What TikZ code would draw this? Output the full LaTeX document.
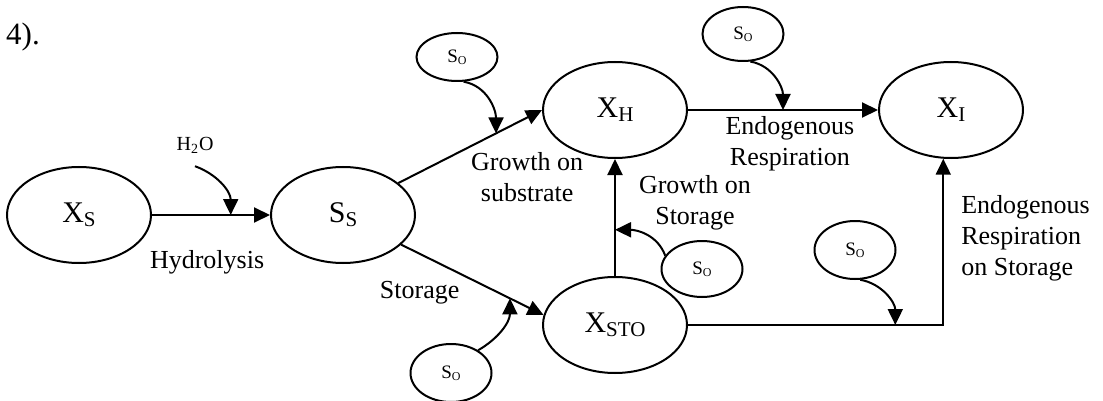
\documentclass[tikz,border=0pt]{standalone}
\usepackage{fontspec}
\setmainfont{Liberation Serif}
\usepackage{tikz}
\usetikzlibrary{positioning,shapes.geometric,arrows.meta}
\tikzset{flow/.style={line width=1pt,-{Triangle[length=8pt,width=7.5pt]}}}
\newcommand{\subbig}[1]{\raisebox{-2pt}{\fontsize{10.5}{12}\selectfont #1}}
\newcommand{\subsmall}[1]{\raisebox{-0.8pt}{\fontsize{6}{7}\selectfont #1}}

\begin{document}
\begin{tikzpicture}[
bignode/.style={ellipse, draw, line width=1pt, minimum width=72pt, minimum height=48pt, inner sep=0pt, font=\fontsize{15}{17}\selectfont},
oxnode/.style={ellipse, draw, line width=1pt, minimum width=40.5pt, minimum height=28pt, inner sep=0pt, font=\fontsize{9.5}{10}\selectfont},
lbl/.style={inner sep=0pt, align=center, font=\fontsize{13}{15.5}\selectfont},
on grid
]
\useasboundingbox (0,0) rectangle (551.5pt,-200.5pt);
%Nodes
\node[bignode]      (xs)   at (39.5pt,-107.5pt)                   {X\subbig{S}};
\node[bignode]      (ss)   [right=132pt of xs]                    {S\subbig{S}};
\node[bignode]      (xh)   [above right=52.5pt and 136pt of ss]   {X\subbig{H}};
\node[bignode]      (xi)   [right=168pt of xh]                    {X\subbig{I}};
\node[bignode]      (xsto) [below=107.5pt of xh]                  {X\subbig{STO}};
\node[oxnode, minimum height=24pt] (so1) [above left=26.5pt and 79pt of xh] {S\subsmall{O}};
\node[oxnode, minimum height=27pt] (so2) [above right=38pt and 64pt of xh]  {S\subsmall{O}};
\node[oxnode]       (so3)  [above right=28pt and 43.5pt of xsto]  {S\subsmall{O}};
\node[oxnode, minimum height=29pt] (so4) [below left=24pt and 82pt of xsto] {S\subsmall{O}};
\node[oxnode, minimum height=29pt] (so5) [above right=37.5pt and 120pt of xsto] {S\subsmall{O}};
\node[font=\fontsize{10}{12}\selectfont] (h2o) [above right=35pt and 58pt of xs] {H\textsubscript{2}O};
\node[font=\fontsize{15.5}{18}\selectfont, inner sep=0pt] (num) at (11.5pt,-18.5pt) {4).};

%Lines
\draw[flow] (xs) -- (ss) node[lbl, pos=0.467, yshift=-23.5pt] (hydro) {Hydrolysis} coordinate[pos=0.667] (p1);
\draw[flow] (ss.30) -- (xh.west) node[lbl, pos=0.5, xshift=28.5pt, yshift=-15.5pt] (grow1) {Growth on\\substrate} coordinate[pos=0.68] (p2);
\draw[flow] (ss.-27) -- (xsto.172) node[lbl, pos=0.13, yshift=-19.5pt] (stor) {Storage} coordinate[pos=0.764] (p3);
\draw[flow] (xsto) -- (xh) node[lbl, pos=0.63, xshift=40pt] (grow2) {Growth on\\Storage} coordinate[pos=0.395] (p4);
\draw[flow] (xh) -- (xi) node[lbl, pos=0.536, yshift=-17pt] (endo1) {Endogenous\\Respiration} coordinate[pos=0.5] (p5);
\draw[flow] (xsto) -| (xi.-99) node[lbl, pos=0.76, anchor=west, xshift=8.5pt, align=left] (endo2) {Endogenous\\Respiration\\on Storage} coordinate[pos=0.406] (p6);

%Oxygen and water inputs
\draw[flow] ([yshift=-3pt]h2o.south) to[out=-20,in=90] (p1);
\draw[flow] (so1.-75) to[out=-10,in=90] (p2);
\draw[flow] (so2.-75) to[out=-10,in=90] (p5);
\draw[flow] (so3.160) to[out=110,in=0] (p4);
\draw[flow] (so4.40) to[out=30,in=-90] (p3);
\draw[flow] (so5.-80) to[out=-10,in=90] (p6);
\end{tikzpicture}
\end{document}
